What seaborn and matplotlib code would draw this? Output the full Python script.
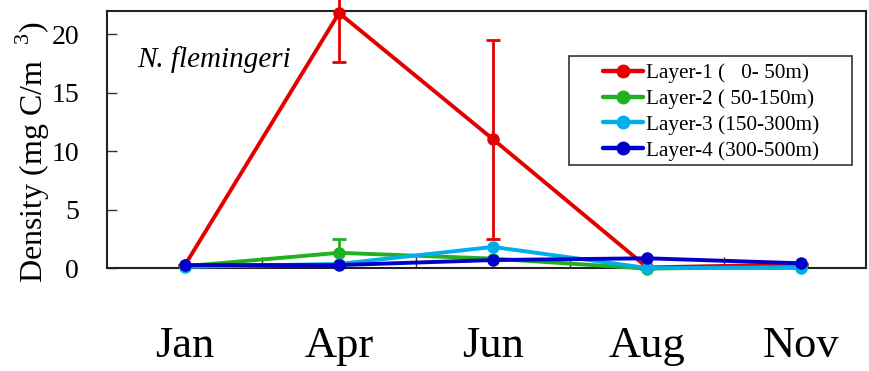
import numpy as np
import pandas as pd
import matplotlib
matplotlib.use("Agg")
import matplotlib.pyplot as plt
from matplotlib.lines import Line2D
from matplotlib.patches import Rectangle
import seaborn as sns

months = ["Jan", "Apr", "Jun", "Aug", "Nov"]
layers = ["Layer-1 (   0- 50m)", "Layer-2 ( 50-150m)", "Layer-3 (150-300m)", "Layer-4 (300-500m)"]
layer1 = [0.25, 21.8, 11.0, 0.05, 0.3]
layer2 = [0.15, 1.3, 0.8, -0.05, 0.1]
layer3 = [0.1, 0.35, 1.8, 0.0, 0.0]
layer4 = [0.25, 0.25, 0.68, 0.83, 0.4]
err1 = [0, 4.2, 8.5, 0, 0]
err2 = [0, 1.15, 0, 0, 0]
colors = ["#e30000", "#20b020", "#00aeea", "#0000c8"]
yticks = [0, 5, 10, 15, 20]

sns.set_theme(style="white")
plt.rcParams['font.family'] = ['Liberation Serif', 'DejaVu Serif']
plt.rcParams['mathtext.fontset'] = 'custom'
plt.rcParams['mathtext.rm'] = 'Liberation Serif'
plt.rcParams['text.color'] = 'black'
plt.rcParams['axes.labelcolor'] = 'black'
plt.rcParams['xtick.color'] = 'black'
plt.rcParams['ytick.color'] = 'black'

rows = []
for lab, vals in zip(layers, [layer1, layer2, layer3, layer4]):
    for i, v in enumerate(vals):
        rows.append({"idx": i, "val": v, "layer": lab})
df = pd.DataFrame(rows)

fig = plt.figure(figsize=(8.69, 3.71), dpi=100)
ax = fig.add_axes([107/869, 1-268/371, (866-107)/869, (268-11)/371])

ax.errorbar(range(len(months)), layer1, yerr=err1, fmt='none', ecolor=colors[0],
            elinewidth=2.0, capsize=5, capthick=2.0, clip_on=False, zorder=1)
ax.errorbar(range(len(months)), layer2, yerr=err2, fmt='none', ecolor=colors[1],
            elinewidth=2.0, capsize=5, capthick=2.0, clip_on=False, zorder=1)

sns.lineplot(data=df, x="idx", y="val", hue="layer", palette=colors, marker='o',
             markersize=9, markeredgewidth=0, linewidth=2.8, ax=ax, legend=False,
             zorder=3)
for ln in ax.get_lines():
    ln.set_clip_on(False)

ax.set_xlim(-0.506, 4.42)
ax.set_ylim(0, 21.97)
ax.set_yticks(yticks)
ax.set_yticklabels([str(t) for t in yticks], fontsize=20)
ax.set_xticks(range(len(months)))
ax.set_xticklabels(months, fontsize=32)
ax.set_xticks(np.arange(0.5, 4.0, 1.0), minor=True)
ax.tick_params(axis='x', which='major', length=0, pad=42)
ax.tick_params(axis='x', which='minor', direction='in', length=8, width=1, color='#333333', bottom=True)
ax.tick_params(axis='y', which='major', direction='in', length=7, width=1, color='#333333', left=True, pad=20)
ax.set_xlabel("")
ax.set_ylabel("Density (mg C/m  $^{3}$)", fontsize=23)
ax.yaxis.set_label_coords(-0.072, 0.45)
for sp in ax.spines.values():
    sp.set_color('#222222')
    sp.set_linewidth(1.5)

ax.text(0.04, 0.81, "N. flemingeri", transform=ax.transAxes, fontsize=21,
        style='italic', va='center', ha='left')

# legend box
ax.add_patch(Rectangle((0.6087, 0.4008), 0.9816-0.6087, 0.8249-0.4008, transform=ax.transAxes,
                       facecolor='white', edgecolor='#333333', linewidth=1.2, zorder=5, clip_on=False))
handles = [Line2D([], [], color=c, marker='o', markersize=10, markeredgewidth=0, linewidth=3.2)
           for c in colors]
leg = ax.legend(handles, layers, loc='center left', bbox_to_anchor=(0.653, 0.607), fontsize=15.3,
                frameon=False, borderpad=0, labelspacing=0.28, handlelength=1.9,
                handletextpad=0.15, borderaxespad=0)
leg.set_zorder(6)

fig.savefig("out.png", dpi=100)
